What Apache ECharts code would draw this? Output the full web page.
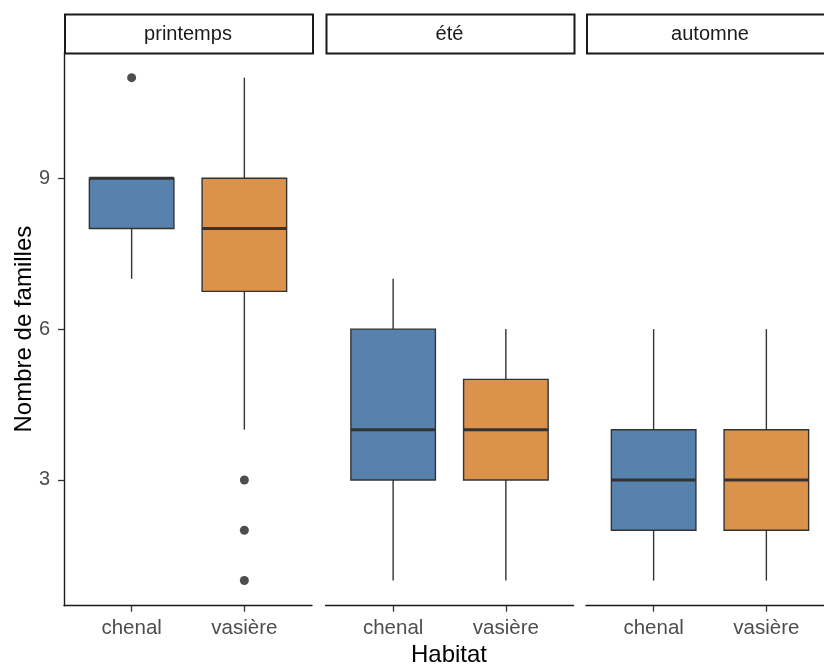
<!DOCTYPE html>
<html>
<head>
<meta charset="utf-8">
<script src="https://cdn.jsdelivr.net/npm/echarts@6/dist/echarts.min.js"></script>
<style>
  html, body { margin: 0; padding: 0; background: #ffffff; }
  #chart { width: 824px; height: 666px; }
</style>
</head>
<body>
<div id="chart"></div>
<script>
// Number of families per habitat, faceted by season
const seasons = ['printemps', 'été', 'automne'];
const habitats = ['chenal', 'vasière'];
const yTicks = [3, 6, 9];

// Box statistics per habitat: [lower whisker, Q1, median, Q3, upper whisker]
const printempsStats = [[7, 8, 9, 9, 9], [4, 6.75, 8, 9, 11]];
const eteStats = [[1, 3, 4, 6, 7], [1, 3, 4, 5, 6]];
const automneStats = [[1, 2, 3, 4, 6], [1, 2, 3, 4, 6]];

// Outlying values: [habitat index, value]
const printempsOutliers = [[0, 11], [1, 3], [1, 2], [1, 1]];
const eteOutliers = [];
const automneOutliers = [];

const habitatColors = ['#5782AD', '#DB924B'];

// ---- layout ----
const FONT = '"Liberation Sans", Arial, sans-serif';
const Y_MIN = 0.5, Y_MAX = 11.5;
const PANEL_LEFTS = [64, 325.5, 586];
const PANEL_WIDTH = 248;
const PLOT_TOP = 52.5;
const PLOT_BOTTOM = 605.7;
const PLOT_HEIGHT = PLOT_BOTTOM - PLOT_TOP;
const STRIP_TOP = 13.5;
const INK = '#333333';
const AXIS_INK = '#1a1a1a';

const statsBySeason = [printempsStats, eteStats, automneStats];
const outliersBySeason = [printempsOutliers, eteOutliers, automneOutliers];

// discrete scale: 2 categories with 0.6 units of padding on each side
const unit = PANEL_WIDTH / 2.2;

function renderBox(params, api) {
  const k = api.value(0);
  const p = [1, 2, 3, 4, 5].map(d => api.coord([k, api.value(d)]));
  const cx = p[0][0];
  const half = api.size([1, 0])[0] * 0.75 / 2;
  const line = { stroke: INK, lineWidth: 1.4 };
  return {
    type: 'group',
    children: [
      { type: 'line', shape: { x1: cx, y1: p[0][1], x2: cx, y2: p[1][1] }, style: line },
      { type: 'line', shape: { x1: cx, y1: p[3][1], x2: cx, y2: p[4][1] }, style: line },
      { type: 'rect', shape: { x: cx - half, y: p[3][1], width: 2 * half, height: p[1][1] - p[3][1] },
        style: { fill: habitatColors[k], stroke: INK, lineWidth: 1.4 } },
      { type: 'line', shape: { x1: cx - half, y1: p[2][1], x2: cx + half, y2: p[2][1] },
        style: { stroke: INK, lineWidth: 3 } }
    ]
  };
}

const grid = [], xAxis = [], yAxis = [], series = [], graphic = [];

seasons.forEach((season, i) => {
  const left = PANEL_LEFTS[i];
  // panel frame grid (carries the axis lines)
  grid.push({ left: left, width: PANEL_WIDTH, top: PLOT_TOP, height: PLOT_HEIGHT, outerBoundsMode: 'none', containLabel: false });
  // inner grid aligned on the category centres
  grid.push({ left: left + 0.1 * unit, width: 2 * unit, top: PLOT_TOP, height: PLOT_HEIGHT, outerBoundsMode: 'none', containLabel: false });

  xAxis.push({
    type: 'value', gridIndex: 2 * i, min: 0, max: 1,
    axisLine: { show: true, onZero: false, lineStyle: { color: AXIS_INK, width: 1.4 } },
    axisTick: { show: false }, axisLabel: { show: false }, splitLine: { show: false }
  });
  xAxis.push({
    type: 'category', gridIndex: 2 * i + 1, data: habitats, boundaryGap: true,
    axisLine: { show: false },
    axisTick: { show: true, alignWithLabel: true, length: 6, lineStyle: { color: INK, width: 1.3 } },
    axisLabel: { show: true, color: '#4D4D4D', fontSize: 20.5, fontFamily: FONT, margin: 12 },
    splitLine: { show: false }
  });

  const first = i === 0;
  yAxis.push({
    type: 'value', gridIndex: 2 * i, min: Y_MIN, max: Y_MAX,
    axisLine: { show: first, lineStyle: { color: AXIS_INK, width: 1.4 } },
    axisTick: { show: first, length: 6, customValues: yTicks, lineStyle: { color: INK, width: 1.3 } },
    axisLabel: { show: first, customValues: yTicks, color: '#4D4D4D', fontSize: 20, fontFamily: FONT, margin: 14 },
    splitLine: { show: false }
  });
  yAxis.push({
    type: 'value', gridIndex: 2 * i + 1, min: Y_MIN, max: Y_MAX,
    axisLine: { show: false }, axisTick: { show: false }, axisLabel: { show: false }, splitLine: { show: false }
  });

  series.push({
    type: 'custom', name: season,
    xAxisIndex: 2 * i + 1, yAxisIndex: 2 * i + 1,
    dimensions: ['habitat', 'min', 'q1', 'median', 'q3', 'max'],
    encode: { x: 0, y: [1, 2, 3, 4, 5] },
    data: statsBySeason[i].map((s, k) => [k].concat(s)),
    renderItem: renderBox,
    z: 2
  });
  series.push({
    type: 'scatter', name: season + ' outliers',
    xAxisIndex: 2 * i + 1, yAxisIndex: 2 * i + 1,
    data: outliersBySeason[i],
    symbol: 'circle', symbolSize: 9,
    itemStyle: { color: '#222222' },
    z: 3
  });

  // facet strip
  graphic.push({
    type: 'rect', left: left, top: STRIP_TOP,
    shape: { x: 0, y: 0, width: PANEL_WIDTH, height: PLOT_TOP - STRIP_TOP },
    style: { fill: '#ffffff', stroke: AXIS_INK, lineWidth: 2 }
  });
  graphic.push({
    type: 'text', x: left + PANEL_WIDTH / 2, y: (STRIP_TOP + PLOT_TOP) / 2 + 1.5,
    style: { text: season, font: '20px ' + FONT, fill: '#1A1A1A', align: 'center', verticalAlign: 'middle' }
  });
});

// axis titles
graphic.push({
  type: 'text', x: PANEL_LEFTS[0] + (PANEL_LEFTS[2] + PANEL_WIDTH - PANEL_LEFTS[0]) / 2, y: 655,
  style: { text: 'Habitat', font: '24px ' + FONT, fill: '#000000', align: 'center', verticalAlign: 'middle' }
});
graphic.push({
  type: 'text', x: 24, y: (PLOT_TOP + PLOT_BOTTOM) / 2, rotation: Math.PI / 2,
  style: { text: 'Nombre de familles', font: '24px ' + FONT, fill: '#000000', align: 'center', verticalAlign: 'middle' }
});

const chart = echarts.init(document.getElementById('chart'), null, { renderer: 'canvas' });
chart.setOption({
  animation: false,
  backgroundColor: '#ffffff',
  grid: grid,
  xAxis: xAxis,
  yAxis: yAxis,
  series: series,
  graphic: graphic
});
</script>
</body>
</html>
